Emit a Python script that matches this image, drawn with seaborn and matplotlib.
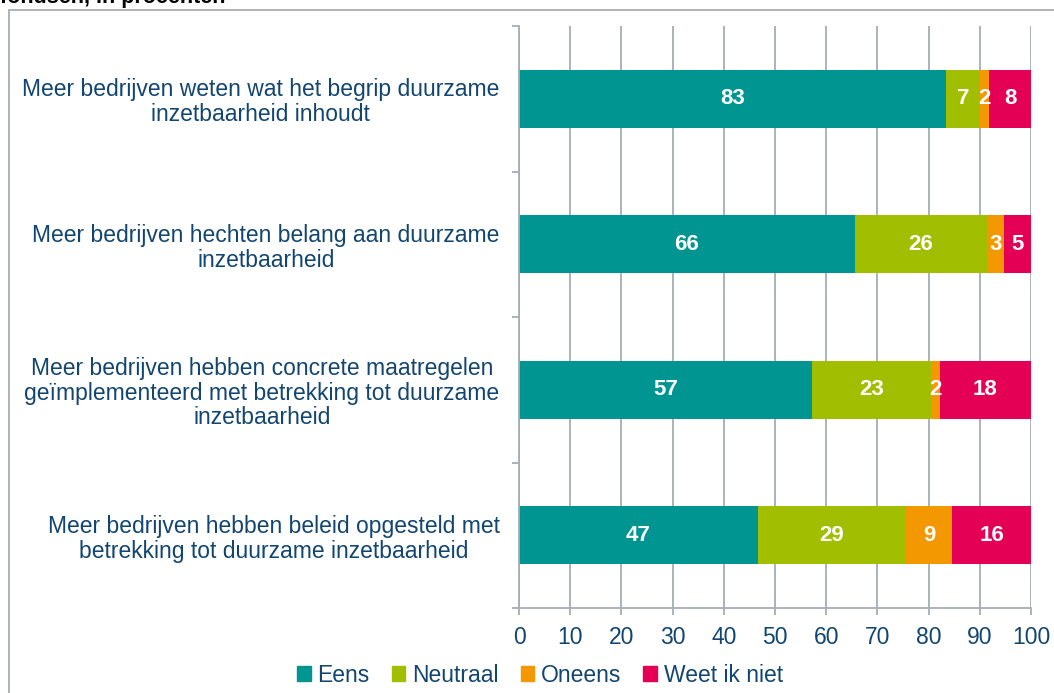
import pandas as pd
import matplotlib.pyplot as plt
import matplotlib.patches as mpatches
import seaborn as sns

# Data (in percent)
stellingen = [
    'Meer bedrijven weten wat het begrip duurzame\ninzetbaarheid inhoudt',
    'Meer bedrijven hechten belang aan duurzame\ninzetbaarheid',
    'Meer bedrijven hebben concrete maatregelen\ngeïmplementeerd met betrekking tot duurzame\ninzetbaarheid',
    'Meer bedrijven hebben beleid opgesteld met\nbetrekking tot duurzame inzetbaarheid',
]
eens = [83.4, 65.6, 57.2, 46.7]
neutraal = [6.6, 25.8, 23.3, 28.9]
oneens = [1.8, 3.3, 1.7, 9.0]
weet_niet = [8.2, 5.3, 17.8, 15.4]
labels_eens = [83, 66, 57, 47]
labels_neutraal = [7, 26, 23, 29]
labels_oneens = [2, 3, 2, 9]
labels_weet_niet = [8, 5, 18, 16]

antwoorden = ['Eens', 'Neutraal', 'Oneens', 'Weet ik niet']
kleuren = ['#009590', '#A2BE00', '#F39800', '#E30055']
tekstkleur = '#124670'
grijs = '#A7ADB5'

sns.set_style('white')
plt.rcParams['font.family'] = ['Liberation Sans', 'DejaVu Sans']

data = pd.DataFrame({'Stelling': stellingen, 'Eens': eens, 'Neutraal': neutraal,
                     'Oneens': oneens, 'Weet ik niet': weet_niet})
cum = data[antwoorden].cumsum(axis=1)
cum['Stelling'] = stellingen

fig = plt.figure(figsize=(10.54, 6.93), dpi=100)
ax = fig.add_axes([519 / 1054, 1 - 608 / 693, 512 / 1054, 582 / 693])

# stacked bars: draw cumulative totals from back to front
for naam, kleur in reversed(list(zip(antwoorden, kleuren))):
    sns.barplot(data=cum, x=naam, y='Stelling', color=kleur, width=0.4,
                orient='h', ax=ax, saturation=1, edgecolor='none')

# value labels
alle_labels = [labels_eens, labels_neutraal, labels_oneens, labels_weet_niet]
for j, naam in enumerate(antwoorden):
    for i in range(len(stellingen)):
        mid = cum[naam][i] - data[naam][i] / 2
        ax.text(mid, i, str(alle_labels[j][i]), ha='center', va='center',
                color='white', fontsize=16, fontweight='bold')

ax.set_xlim(0, 100)
ax.set_ylim(3.5, -0.5)
ax.set_xticks(range(0, 101, 10))
ax.set_xlabel('')
ax.set_ylabel('')
ax.xaxis.grid(True, color=grijs, linewidth=1.3)
ax.set_axisbelow(True)
for s in ['top', 'right']:
    ax.spines[s].set_visible(False)
for s in ['left', 'bottom']:
    ax.spines[s].set_color(grijs)
    ax.spines[s].set_linewidth(1.3)

ax.set_yticks([-0.5, 0.5, 1.5, 2.5, 3.5], minor=True)
ax.tick_params(axis='y', which='minor', left=True, length=5, color=grijs, width=1.3)
ax.tick_params(axis='y', which='major', length=0, pad=14, labelsize=16.5, labelcolor=tekstkleur)
ax.tick_params(axis='x', bottom=True, length=5, color=grijs, width=1.3, pad=8,
               labelsize=16.5, labelcolor=tekstkleur)
for t in ax.get_yticklabels():
    t.set_multialignment('center')
    t.set_linespacing(1.1)

# legend
handles = [mpatches.Patch(color=k, label=a) for a, k in zip(antwoorden, kleuren)]
leg = fig.legend(handles=handles, loc='center', bbox_to_anchor=(540 / 1054, 1 - 675 / 693),
                 ncol=4, frameon=False, fontsize=16.5, handlelength=0.6, handleheight=0.6,
                 handletextpad=0.3, columnspacing=0.95)
for t in leg.get_texts():
    t.set_color(tekstkleur)

# chart frame and cut-off title
fig.patches.append(mpatches.Rectangle((9 / 1054, -0.1), 1.2, 1.1 - 10 / 693, fill=False,
                                      edgecolor=grijs, linewidth=1.3, transform=fig.transFigure))
fig.text(0, 1 - 3 / 693, 'fondsen, in procenten', fontsize=15.5, fontweight='bold',
         color='black', ha='left', va='baseline')

fig.savefig('out.png', dpi=100)
